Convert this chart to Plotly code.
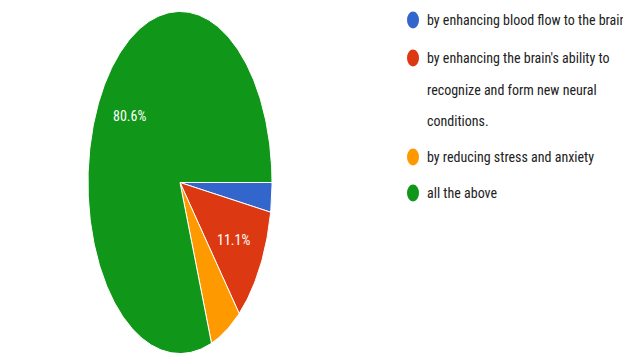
import numpy as np
import plotly.graph_objects as go

labels = ["by enhancing blood flow to the brain",
          "by enhancing the brain's ability to recognize and form new neural conditions.",
          "by reducing stress and anxiety",
          "all the above"]
legend_lines = [["by enhancing blood flow to the brain"],
                ["by enhancing the brain's ability to", "recognize and form new neural", "conditions."],
                ["by reducing stress and anxiety"],
                ["all the above"]]
counts = [1, 4, 2, 29]
colors = ["#3366CC", "#DC3912", "#FF9900", "#109618"]

W, H = 623, 353
cx, cy, rx, ry = 180, 182.5, 92, 171
label_frac = 0.675
FONT = "Roboto Condensed, Liberation Sans, Arial, sans-serif"

vals = np.array(counts, dtype=float)
frac = vals / vals.sum()
ends = np.cumsum(frac) * 2 * np.pi
starts = ends - frac * 2 * np.pi

fig = go.Figure()
annotations = []
for i, (s, e) in enumerate(zip(starts, ends)):
    t = np.linspace(s, e, max(int((e - s) / (2 * np.pi) * 400), 8))
    xs = np.concatenate([[cx], cx + rx * np.cos(t), [cx]])
    ys = np.concatenate([[cy], cy + ry * np.sin(t), [cy]])
    fig.add_trace(go.Scatter(x=xs, y=ys, mode="lines", fill="toself",
                             fillcolor=colors[i], line=dict(color="white", width=1),
                             hoverinfo="text", text=labels[i], showlegend=False))
    if frac[i] > 0.08:
        m = (s + e) / 2
        annotations.append(dict(x=cx + label_frac * rx * np.cos(m), y=cy + label_frac * ry * np.sin(m),
                                xref="x", yref="y", text=f"{frac[i]*100:.1f}%", showarrow=False,
                                font=dict(family=FONT, size=14, color="white"),
                                xanchor="center", yanchor="middle"))

# custom legend
row_y = [20, 58, 157, 193]
line_gap = 31.5
shapes = []
for i, lines in enumerate(legend_lines):
    y0 = row_y[i]
    shapes.append(dict(type="circle", xref="x", yref="y", x0=407, x1=419, y0=y0 - 8.5, y1=y0 + 8.5,
                       fillcolor=colors[i], line=dict(width=0)))
    for j, ln in enumerate(lines):
        annotations.append(dict(x=425, y=y0 + j * line_gap, xref="x", yref="y", text=ln,
                                showarrow=False, xanchor="left", yanchor="middle",
                                font=dict(family=FONT, size=14, color="#222222")))

fig.update_layout(width=W, height=H, margin=dict(l=0, r=0, t=0, b=0),
                  paper_bgcolor="white", plot_bgcolor="white",
                  xaxis=dict(range=[0, W], visible=False, fixedrange=True),
                  yaxis=dict(range=[H, 0], visible=False, fixedrange=True),
                  annotations=annotations, shapes=shapes)
fig.write_html("out.html")
